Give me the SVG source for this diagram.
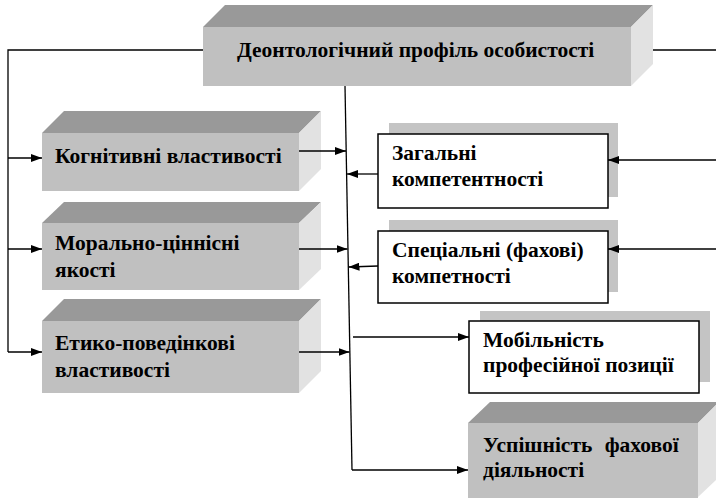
<svg xmlns="http://www.w3.org/2000/svg" width="716" height="498" viewBox="0 0 716 498">
<defs>
<marker id="ah" markerWidth="11" markerHeight="8" refX="11" refY="4" orient="auto" markerUnits="userSpaceOnUse">
<path d="M0,0 L11,4 L0,8 z" fill="#000"/>
</marker>
<style>
.top{fill:#999999}
.front{fill:#c0c0c0}
.side{fill:#e2e2e2}
.shadow{fill:#c4c4c4}
.card{fill:#fff;stroke:#000;stroke-width:1.5}
.t{font-family:"Liberation Serif","Times New Roman","DejaVu Serif",serif;font-weight:bold;font-size:21.5px;fill:#000}
.c{fill:none;stroke:#000;stroke-width:1.3}
.a{fill:none;stroke:#000;stroke-width:1.3;marker-end:url(#ah)}
</style>
</defs>
<rect width="716" height="498" fill="#fff"/>

<g id="profile">
<polygon class="top" points="203,27 225,5 653,5 631,27"/>
<polygon class="side" points="631,27 653,5 653,64 631,86"/>
<rect class="front" x="203" y="27" width="428" height="59"/>
<text class="t" x="237" y="57">Деонтологічний профіль особистості</text>
</g>

<g id="cognitive">
<polygon class="top" points="42,133 64,111 321,111 299,133"/>
<polygon class="side" points="299,133 321,111 321,169 299,191"/>
<rect class="front" x="42" y="133" width="257" height="58"/>
<text class="t" x="55" y="163">Когнітивні властивості</text>
</g>

<g id="moral">
<polygon class="top" points="42,223 64,202 321,202 299,223"/>
<polygon class="side" points="299,223 321,202 321,269 299,290"/>
<rect class="front" x="42" y="223" width="257" height="67"/>
<text class="t" x="55" y="250">Морально-ціннісні</text>
<text class="t" x="55" y="277">якості</text>
</g>

<g id="ethic">
<polygon class="top" points="42,321 64,299 321,299 299,321"/>
<polygon class="side" points="299,321 321,299 321,371 299,393"/>
<rect class="front" x="42" y="321" width="257" height="72"/>
<text class="t" x="55" y="350">Етико-поведінкові</text>
<text class="t" x="55" y="377">властивості</text>
</g>

<g id="general">
<rect class="shadow" x="389" y="123" width="229" height="74"/>
<rect class="card" x="378" y="134" width="230" height="74"/>
<text class="t" x="392" y="160">Загальні</text>
<text class="t" x="392" y="186">компетентності</text>
</g>

<g id="special">
<rect class="shadow" x="389" y="220" width="229" height="72"/>
<rect class="card" x="378" y="231" width="230" height="72"/>
<text class="t" x="392" y="257">Спеціальні (фахові)</text>
<text class="t" x="392" y="283">компетності</text>
</g>

<g id="mobility">
<rect class="shadow" x="480" y="311" width="230" height="71"/>
<rect class="card" x="469" y="321" width="230" height="72"/>
<text class="t" x="483" y="347">Мобільність</text>
<text class="t" x="483" y="372">професійної позиції</text>
</g>

<g id="success">
<polygon class="top" points="468,423 490,402 716,402 716,405 698,423"/>
<polygon class="side" points="698,423 716,405 716,480 698,497"/>
<rect class="front" x="468" y="423" width="230" height="75"/>
<text class="t" x="483" y="452" word-spacing="7">Успішність фахової</text>
<text class="t" x="483" y="477">діяльності</text>
</g>

<g id="connectors">
<polyline class="c" points="203,50 8,50 8,352"/>
<line class="c" x1="653" y1="50" x2="716" y2="50"/>
<line class="c" x1="345" y1="86" x2="352" y2="470"/>
<line class="a" x1="8" y1="158" x2="42" y2="158"/>
<line class="a" x1="8" y1="249" x2="42" y2="249"/>
<line class="a" x1="8" y1="352" x2="42" y2="352"/>
<line class="a" x1="299" y1="151" x2="346" y2="151"/>
<line class="a" x1="299" y1="249" x2="347.5" y2="249"/>
<line class="a" x1="299" y1="352" x2="349.5" y2="352"/>
<line class="a" x1="378" y1="174" x2="347" y2="174"/>
<line class="a" x1="378" y1="266" x2="348.5" y2="267"/>
<line class="a" x1="716" y1="160" x2="608" y2="160"/>
<line class="a" x1="716" y1="249" x2="608" y2="249"/>
<line class="a" x1="353" y1="337" x2="469" y2="337"/>
<line class="a" x1="352" y1="470" x2="468" y2="470"/>
</g>
</svg>
